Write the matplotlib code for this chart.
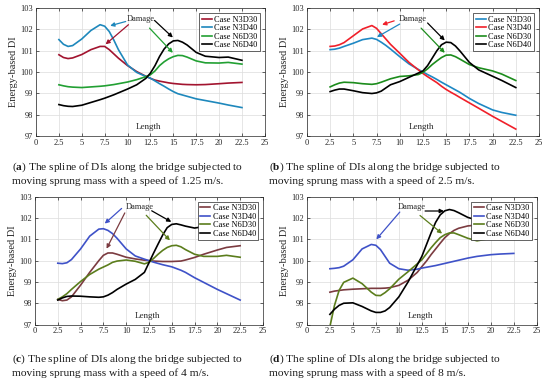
import numpy as np
import matplotlib
matplotlib.use("Agg")
import matplotlib.pyplot as plt

plt.rcParams['font.family'] = ['Liberation Serif', 'DejaVu Serif']
plt.rcParams['mathtext.fontset'] = 'custom'
plt.rcParams['mathtext.rm'] = 'Liberation Serif'
plt.rcParams['mathtext.bf'] = 'Liberation Serif:bold'

# ---- data ----
length = [2.5, 3, 3.5, 4, 5, 6, 7, 7.5, 8, 8.5, 9, 10, 11, 12, 12.5, 13, 13.5,
          14, 14.5, 15, 15.5, 16, 16.5, 17.5, 18.5, 20, 21, 22.5]
cases = ['Case N3D30', 'Case N3D40', 'Case N6D30', 'Case N6D40']

# (a) 1.25 m/s
a_n3d30 = [100.81, 100.68, 100.63, 100.66, 100.82, 101.05, 101.2, 101.2, 101.05, 100.85, 100.65, 100.3, 100.02, 99.8,
           99.7, 99.62, 99.57, 99.53, 99.49, 99.46, 99.44, 99.42, 99.41, 99.4, 99.41, 99.45, 99.48, 99.51]
a_n3d40 = [101.52, 101.3, 101.2, 101.24, 101.55, 101.95, 102.22, 102.15, 101.9, 101.5, 101.05, 100.33, 99.98, 99.79,
           99.71, 99.58, 99.45, 99.33, 99.2, 99.08, 98.98, 98.92, 98.86, 98.74, 98.66, 98.54, 98.45, 98.33]
a_n6d30 = [99.4, 99.35, 99.31, 99.29, 99.27, 99.3, 99.33, 99.35, 99.38, 99.41, 99.45, 99.53, 99.64, 99.78,
           99.87, 100.05, 100.3, 100.48, 100.62, 100.72, 100.78, 100.77, 100.7, 100.52, 100.43, 100.42, 100.45, 100.37]
a_n6d40 = [98.47, 98.42, 98.39, 98.38, 98.44, 98.57, 98.7, 98.77, 98.85, 98.93, 99.02, 99.2, 99.4, 99.7,
           99.95, 100.3, 100.73, 101.08, 101.32, 101.46, 101.48, 101.4, 101.27, 100.92, 100.74, 100.68, 100.7, 100.55]

# (b) 2.5 m/s
b_n3d30 = [101.05, 101.07, 101.12, 101.2, 101.35, 101.52, 101.59, 101.53, 101.4, 101.25, 101.08, 100.72, 100.38, 100.12,
           100.0, 99.88, 99.77, 99.65, 99.52, 99.4, 99.28, 99.16, 99.04, 98.76, 98.52, 98.22, 98.1, 97.97]
b_n3d40 = [101.2, 101.22, 101.28, 101.38, 101.7, 102.02, 102.18, 102.05, 101.8, 101.55, 101.3, 100.88, 100.45, 100.1,
           99.93, 99.78, 99.64, 99.5, 99.33, 99.18, 99.05, 98.93, 98.8, 98.55, 98.3, 97.92, 97.68, 97.32]
b_n6d30 = [99.3, 99.4, 99.48, 99.52, 99.5, 99.45, 99.42, 99.45, 99.52, 99.6, 99.68, 99.79, 99.82, 99.88,
           99.98, 100.15, 100.35, 100.52, 100.68, 100.79, 100.8, 100.72, 100.6, 100.35, 100.2, 100.05, 99.9, 99.6]
b_n6d40 = [99.08, 99.15, 99.2, 99.2, 99.12, 99.03, 98.99, 99.02, 99.1, 99.25, 99.4, 99.55, 99.75, 99.95,
           100.05, 100.3, 100.65, 101.0, 101.28, 101.4, 101.38, 101.22, 100.98, 100.45, 100.1, 99.8, 99.6, 99.27]

# (c) 4 m/s
c_n3d30 = [98.18, 98.12, 98.15, 98.3, 98.85, 99.45, 100.0, 100.25, 100.36, 100.36, 100.3, 100.16, 100.08, 100.02,
           100.0, 99.98, 99.97, 99.96, 99.96, 99.96, 99.97, 99.98, 100.03, 100.15, 100.3, 100.5, 100.62, 100.7]
c_n3d40 = [99.88, 99.86, 99.9, 100.05, 100.55, 101.15, 101.48, 101.5, 101.42, 101.27, 101.05, 100.55, 100.22, 100.07,
           100.0, 99.93, 99.87, 99.81, 99.76, 99.71, 99.63, 99.55, 99.45, 99.2, 98.98, 98.65, 98.45, 98.15]
c_n6d30 = [98.18, 98.3, 98.45, 98.65, 99.02, 99.35, 99.6, 99.7, 99.8, 99.92, 99.98, 100.03, 99.97, 99.85,
           99.92, 100.1, 100.3, 100.48, 100.62, 100.7, 100.72, 100.65, 100.52, 100.3, 100.2, 100.2, 100.25, 100.16]
c_n6d40 = [98.15, 98.25, 98.32, 98.34, 98.33, 98.3, 98.28, 98.3, 98.38, 98.5, 98.65, 98.9, 99.12, 99.45,
           99.9, 100.35, 100.78, 101.2, 101.55, 101.7, 101.73, 101.68, 101.62, 101.53, 101.6, 101.7, 101.6, 101.5]

# (d) 8 m/s
d_n3d30 = [98.52, 98.57, 98.6, 98.63, 98.66, 98.68, 98.7, 98.7, 98.7, 98.71, 98.73, 98.84, 99.08, 99.45,
           99.72, 99.98, 100.28, 100.55, 100.82, 101.08, 101.27, 101.42, 101.52, 101.63, 101.67, 101.68, 101.7, 101.72]
d_n3d40 = [99.62, 99.64, 99.67, 99.74, 100.04, 100.55, 100.76, 100.72, 100.52, 100.2, 99.88, 99.62, 99.55, 99.6,
           99.65, 99.69, 99.73, 99.77, 99.82, 99.87, 99.92, 99.97, 100.02, 100.12, 100.2, 100.28, 100.31, 100.34]
d_n6d30 = [96.9, 97.9, 98.6, 98.98, 99.18, 98.92, 98.52, 98.37, 98.36, 98.5, 98.68, 99.13, 99.48, 99.85,
           100.04, 100.32, 100.6, 100.85, 101.08, 101.22, 101.3, 101.3, 101.22, 101.05, 100.93, 101.05, 101.2, 101.3]
d_n6d40 = [97.48, 97.72, 97.9, 98.0, 98.02, 97.85, 97.64, 97.57, 97.57, 97.64, 97.8, 98.3, 99.0, 99.8,
           100.2, 100.75, 101.3, 101.8, 102.15, 102.34, 102.4, 102.35, 102.25, 102.03, 101.9, 101.9, 101.95, 102.0]

captions = [
    ("($\\mathbf{a}$) The spline of DIs along the bridge subjected to",
     "moving sprung mass with a speed of 1.25 m/s."),
    ("($\\mathbf{b}$) The spline of DIs along the bridge subjected to",
     "moving sprung mass with a speed of 2.5 m/s."),
    ("($\\mathbf{c}$) The spline of DIs along the bridge subjected to",
     "moving sprung mass with a speed of 4 m/s."),
    ("($\\mathbf{d}$) The spline of DIs along the bridge subjected to",
     "moving sprung mass with a speed of 8 m/s."),
]

colors_ab = [['#A2142F', '#1E88BC', '#22A033', 'black'],
             ['#1E88C4', '#F0202A', '#1C8C1C', 'black']]
colors_cd = ['#7B3B40', '#3F52C8', '#5B7D1C', 'black']

panels = [
    ([a_n3d30, a_n3d40, a_n6d30, a_n6d40], colors_ab[0],
     # arrows: (tail, head, color index)
     [((9.8, 102.37), (8.1, 102.17), 1), ((10.1, 102.22), (7.6, 101.3), 0),
      ((12.4, 102.06), (14.95, 100.9), 2), ((12.95, 102.42), (14.95, 101.62), 3)]),
    ([b_n3d30, b_n3d40, b_n6d30, b_n6d40], colors_ab[1],
     [((9.4, 102.4), (8.1, 102.22), 1), ((10.0, 102.25), (7.55, 101.64), 0),
      ((12.3, 102.06), (14.85, 100.9), 2), ((13.0, 102.3), (14.85, 101.48), 3)]),
    ([c_n3d30, c_n3d40, c_n6d30, c_n6d40], colors_cd,
     [((9.5, 102.45), (7.65, 101.74), 1), ((9.85, 102.24), (7.85, 100.56), 0),
      ((12.2, 102.13), (14.8, 100.95), 2), ((12.8, 102.34), (14.95, 101.82), 3)]),
    ([d_n3d30, d_n3d40, d_n6d30, d_n6d40], colors_cd,
     [((10.1, 102.28), (7.55, 101.0), 1), ((12.3, 102.12), (14.7, 101.27), 2),
      ((12.85, 102.33), (14.9, 102.33), 3)]),
]

axes_rects = [[0.0655, 0.647, 0.416, 0.332], [0.558, 0.647, 0.422, 0.332],
              [0.0636, 0.157, 0.4145, 0.332], [0.558, 0.157, 0.418, 0.332]]
caption_pos = [(0.022, 0.5650, 0.5300), (0.489, 0.5650, 0.5300),
               (0.022, 0.0665, 0.0315), (0.489, 0.0665, 0.0315)]

fig = plt.figure(figsize=(5.5, 3.85), dpi=100)

for (series, cols, arrows), rect, cap, cpos in zip(panels, axes_rects, captions, caption_pos):
    ax = fig.add_axes(rect)
    for vals, col, name in zip(series, cols, cases):
        ax.plot(length, vals, color=col, lw=1.2, label=name)
    ax.set_xlim(0, 25)
    ax.set_ylim(97, 103)
    ax.set_xticks(np.arange(0, 25.1, 2.5))
    ax.set_xticklabels(['0', '2.5', '5', '7.5', '10', '12.5', '15', '17.5', '20', '22.5', '25'])
    ax.set_yticks(range(97, 104))
    ax.tick_params(direction='in', length=2, width=0.5, labelsize=6, pad=2,
                   top=True, right=True, colors='#262626')
    ax.grid(True, color='#dcdcdc', lw=0.5)
    for s in ax.spines.values():
        s.set_linewidth(0.5)
        s.set_color('#262626')
    ax.set_ylabel('Energy-based DI', fontsize=7.5, labelpad=2, color='#262626')
    ax.text(12.3, 97.4, 'Length', fontsize=6.5, ha='center', va='center', color='#262626')
    ax.text(11.45, 102.5, 'Damage', fontsize=6, ha='center', va='center', color='#262626')
    for tail, head, ci in arrows:
        ax.annotate('', xy=head, xytext=tail,
                    arrowprops=dict(arrowstyle='-|>', color=cols[ci], lw=0.9,
                                    mutation_scale=6, shrinkA=0, shrinkB=0))
    leg = ax.legend(loc='upper right', bbox_to_anchor=(0.98, 0.96), fontsize=6,
                    handlelength=1.2, handletextpad=0.3, labelspacing=0.05,
                    borderpad=0.3, borderaxespad=0, fancybox=False, framealpha=1,
                    edgecolor='#262626')
    leg.get_frame().set_linewidth(0.5)

    fig.text(cpos[0], cpos[1], cap[0], fontsize=8.2, va='center', ha='left', color='#1a1a1a')
    fig.text(cpos[0], cpos[2], cap[1], fontsize=8.2, va='center', ha='left', color='#1a1a1a')

fig.savefig('out.png', dpi=100)
